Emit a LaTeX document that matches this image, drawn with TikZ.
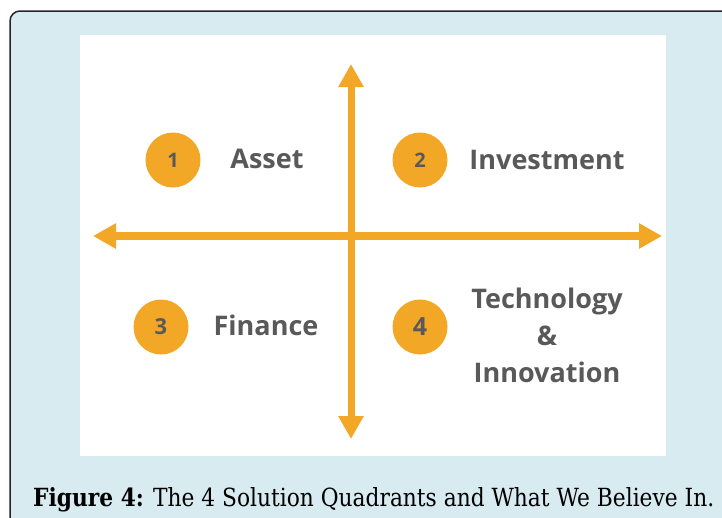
\documentclass[tikz,border=0pt]{standalone}
\usepackage{fontspec}
\setmainfont{Open Sans}
\newfontfamily\capfont[FakeStretch=0.87]{DejaVu Serif}
\usepackage{tikz}
\usetikzlibrary{arrows.meta}

\definecolor{panelblue}{RGB}{216,235,240}
\definecolor{quadorange}{RGB}{242,168,38}
\definecolor{labelgray}{RGB}{89,89,89}

\tikzset{
  axisarrow/.style={quadorange, line width=#1,
    {Triangle[length=23pt,width=24pt]}-{Triangle[length=23pt,width=24pt]}},
  numdot/.style={circle, fill=quadorange, minimum size=55pt, inner sep=0pt,
    text=labelgray, font=\bfseries\fontsize{#1}{#1}\selectfont},
  quadlabel/.style={text=labelgray, inner sep=0pt, align=center,
    font=\bfseries\fontsize{27}{37}\selectfont},
}

\begin{document}
\begin{tikzpicture}[x=1pt,y=-1pt]
  \useasboundingbox (0,0) rectangle (722,517);
  \clip (0,0) rectangle (722,517);
  \fill[white] (0,0) rectangle (722,517);

  % caption frame and figure panel
  \filldraw[fill=panelblue, draw=black!85, line width=1.5pt, rounded corners=10pt]
    (10,560) -- (10,11) -- (760,11) -- (760,560) -- cycle;
  \fill[white] (80,35) rectangle (666,456);

  % axes
  \coordinate (west) at (93,236);
  \coordinate (east) at (662,236);
  \coordinate (north) at (351,64);
  \coordinate (south) at (351,439);
  \draw[axisarrow=8pt] (west) -- (east);
  \draw[axisarrow=7pt] (south) -- (north);

  % quadrants
  \node[numdot=20] (n1) at (173,160) {1};
  \node[numdot=20] (n2) at (420,160) {2};
  \node[numdot=22] (n3) at (161,327) {3};
  \node[numdot=25] (n4) at (420,327) {4};

  \node[quadlabel] (asset) at (267,159) {Asset};
  \node[quadlabel] (invest) at (547,160) {Investment};
  \node[quadlabel] (finance) at (266,325) {Finance};
  \node[quadlabel] (tech) at (547,335) {Technology\\\&\\Innovation};

  \node[anchor=base west, inner sep=0pt, font=\capfont\fontsize{25}{25}\selectfont]
    (caption) at (33,506) {\textbf{Figure 4:} The 4 Solution Quadrants and What We Believe In.};
\end{tikzpicture}
\end{document}
